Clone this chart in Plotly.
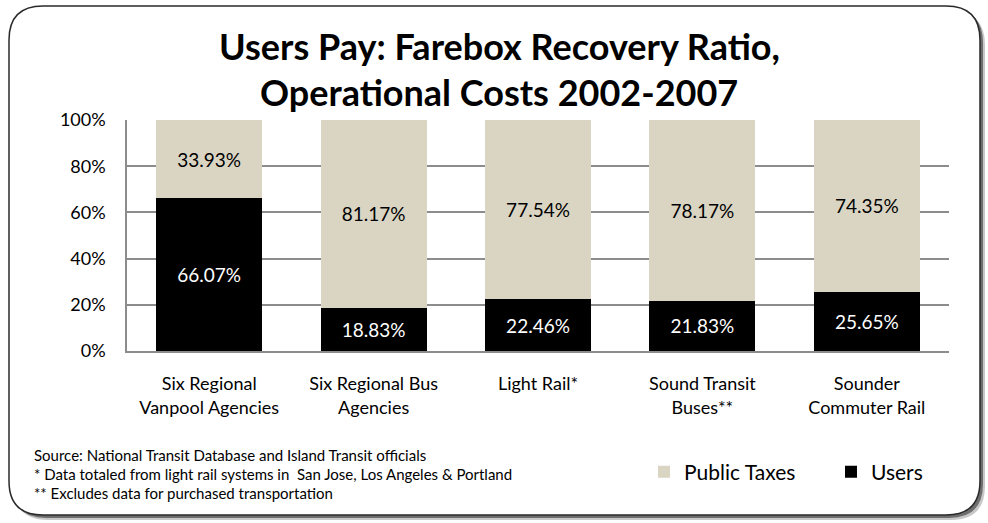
import plotly.graph_objects as go

categories = ["Six Regional<br>Vanpool Agencies", "Six Regional Bus<br>Agencies", "Light Rail*",
              "Sound Transit<br>Buses**", "Sounder<br>Commuter Rail"]
users = [66.07, 18.83, 22.46, 21.83, 25.65]
public_taxes = [33.93, 81.17, 77.54, 78.17, 74.35]
y_ticks = [0, 20, 40, 60, 80, 100]
y_tick_labels = ["0%", "20%", "40%", "60%", "80%", "100%"]

W, H = 988, 523
ML, MR, MT, MB = 127, 39, 120, 172
PW, PH = W - ML - MR, H - MT - MB
FONT = "Lato"


def px(x):
    return (x - ML) / PW


def py(y):
    return (H - MB - y) / PH


def rrect(x0, y0, x1, y1, r):
    pts = [
        ("M", (x0 + r, y0)), ("L", (x1 - r, y0)), ("Q", (x1, y0), (x1, y0 + r)),
        ("L", (x1, y1 - r)), ("Q", (x1, y1), (x1 - r, y1)), ("L", (x0 + r, y1)),
        ("Q", (x0, y1), (x0, y1 - r)), ("L", (x0, y0 + r)), ("Q", (x0, y0), (x0 + r, y0)),
    ]
    s = ""
    for p in pts:
        s += p[0] + " ".join(f"{px(a):.5f},{py(b):.5f}" for a, b in p[1:]) + " "
    return s + "Z"


fig = go.Figure()
fig.add_trace(go.Bar(
    x=categories, y=users, name="Users", legend="legend2",
    marker=dict(color="#000000", line=dict(width=0)),
    text=[f"{v:.2f}%" for v in users], textposition="inside", insidetextanchor="middle",
    textfont=dict(family=FONT, size=19, color="white"), constraintext="none",
    hoverinfo="skip"))
fig.add_trace(go.Bar(
    x=categories, y=public_taxes, name="Public Taxes", legend="legend",
    marker=dict(color="#DAD5C3", line=dict(width=0)),
    text=[f"{v:.2f}%" for v in public_taxes], textposition="inside", insidetextanchor="middle",
    textfont=dict(family=FONT, size=19, color="black"), constraintext="none",
    hoverinfo="skip"))

shapes = [
    dict(type="path", xref="paper", yref="paper", layer="below",
         path=rrect(14, 11, 985, 520, 34), fillcolor="#c8c8c8", line=dict(width=0)),
    dict(type="path", xref="paper", yref="paper", layer="below",
         path=rrect(12, 9, 983, 518, 34), fillcolor="#6e6e6e", line=dict(width=0)),
    dict(type="path", xref="paper", yref="paper", layer="below",
         path=rrect(9, 6, 980, 515, 34), fillcolor="white", line=dict(color="#2a2a2a", width=1.5)),
]

annotations = [
    dict(text="<b>Users Pay: Farebox Recovery Ratio,</b>", xref="paper", yref="paper",
         x=px(499), y=py(46), showarrow=False, font=dict(family=FONT, size=36, color="black"),
         xanchor="center", yanchor="middle"),
    dict(text="<b>Operational Costs 2002-2007</b>", xref="paper", yref="paper",
         x=px(499), y=py(92), showarrow=False, font=dict(family=FONT, size=36, color="black"),
         xanchor="center", yanchor="middle"),
]
notes = ["Source: National Transit Database and Island Transit officials",
         "* Data totaled from light rail systems in  San Jose, Los Angeles & Portland",
         "** Excludes data for purchased transportation"]
for i, t in enumerate(notes):
    annotations.append(dict(text=t, xref="paper", yref="paper", x=px(32), y=py(455 + 19 * i),
                            showarrow=False, xanchor="left", yanchor="middle",
                            font=dict(family=FONT, size=15, color="black")))

legend_common = dict(orientation="h", yanchor="middle", xanchor="left",
                     font=dict(family=FONT, size=21), itemwidth=30,
                     bgcolor="rgba(0,0,0,0)", borderwidth=0)

fig.update_layout(
    width=W, height=H, margin=dict(l=ML, r=MR, t=MT, b=MB),
    barmode="stack", bargap=0.355,
    paper_bgcolor="white", plot_bgcolor="rgba(0,0,0,0)",
    font=dict(family=FONT, color="black"),
    showlegend=True,
    legend=dict(x=px(644), y=py(472), **legend_common),
    legend2=dict(x=px(831), y=py(472), **legend_common),
    xaxis=dict(showgrid=False, showline=True, linecolor="#8c8c8c", linewidth=1.5,
               ticks="", tickfont=dict(family=FONT, size=18), ticklabelstandoff=16),
    yaxis=dict(range=[0, 100], tickvals=y_ticks, ticktext=y_tick_labels, showgrid=True,
               gridcolor="#8c8c8c", gridwidth=1.5, showline=True, linecolor="#8c8c8c",
               linewidth=1.5, zeroline=False, tickfont=dict(family=FONT, size=18),
               ticks="", ticklabelstandoff=16),
    shapes=shapes, annotations=annotations,
)

fig.write_html("out.html")
